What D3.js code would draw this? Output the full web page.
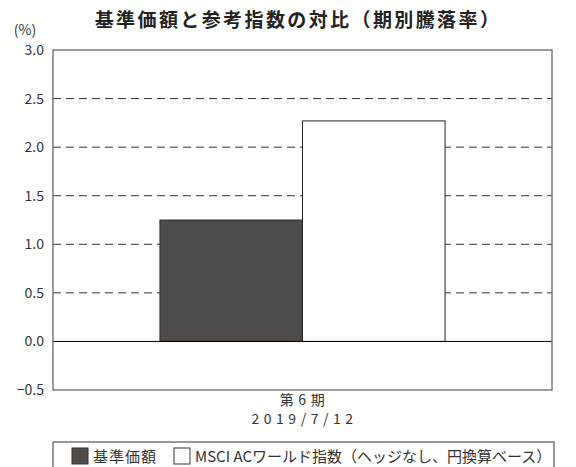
<!DOCTYPE html>
<html>
<head>
<meta charset="utf-8">
<script src="https://cdn.jsdelivr.net/npm/d3@7"></script>
<style>
  body { margin: 0; background: #fff; }
  text { font-family: "Noto Sans CJK JP", "Noto Sans", sans-serif; }
</style>
</head>
<body>
<div id="chart"></div>
<script>
const periods = ["第6期"];
const periodDates = ["2019/7/12"];
const seriesNames = ["基準価額", "MSCI ACワールド指数（ヘッジなし、円換算ベース）"];
const fundValues = [1.25];
const indexValues = [2.27];
const yTicks = [-0.5, 0.0, 0.5, 1.0, 1.5, 2.0, 2.5, 3.0];

const W = 576, H = 467;
const margin = { top: 50, right: 24, bottom: 77, left: 53 };
const width = W - margin.left - margin.right,
      height = H - margin.top - margin.bottom;

const svg = d3.select("#chart").append("svg")
  .attr("width", W).attr("height", H);

svg.append("text")
  .attr("x", 298).attr("y", 27)
  .attr("text-anchor", "middle")
  .style("font-size", "19px").style("font-weight", "bold").style("fill", "#222")
  .style("letter-spacing", "2.4px")
  .text("基準価額と参考指数の対比（期別騰落率）");

svg.append("text")
  .attr("x", 25).attr("y", 35)
  .attr("text-anchor", "middle")
  .style("font-size", "14px").style("fill", "#333")
  .text("(%)");

const g = svg.append("g").attr("transform", `translate(${margin.left},${margin.top})`);

const x = d3.scaleBand().domain(periods).range([0, width]).paddingInner(0).paddingOuter(0.375);
const x1 = d3.scaleBand().domain(seriesNames).range([0, x.bandwidth()]);
const y = d3.scaleLinear().domain([-0.5, 3.0]).range([height, 0]);

// dashed gridlines
g.append("g").selectAll("line")
  .data(yTicks.filter(t => t !== 0 && t !== 3.0 && t !== -0.5))
  .join("line")
  .attr("x1", 0).attr("x2", width)
  .attr("y1", d => y(d)).attr("y2", d => y(d))
  .attr("stroke", "#333").attr("stroke-width", 1)
  .attr("stroke-dasharray", "8,5");

// bars
const rows = periods.map((p, i) => ({ period: p, values: [fundValues[i], indexValues[i]] }));
const colors = ["#4d4a48", "#ffffff"];
g.append("g").selectAll("g")
  .data(rows).join("g")
  .attr("transform", d => `translate(${x(d.period)},0)`)
  .selectAll("rect")
  .data(d => d.values.map((v, j) => ({ name: seriesNames[j], v, j })))
  .join("rect")
  .attr("x", d => x1(d.name))
  .attr("y", d => y(Math.max(0, d.v)))
  .attr("width", x1.bandwidth())
  .attr("height", d => Math.abs(y(d.v) - y(0)))
  .attr("fill", d => colors[d.j])
  .attr("stroke", d => d.j === 0 ? "#333" : "#222")
  .attr("stroke-width", 1);

// zero line
g.append("line")
  .attr("x1", 0).attr("x2", width)
  .attr("y1", y(0)).attr("y2", y(0))
  .attr("stroke", "#000").attr("stroke-width", 1);

// frame
g.append("rect")
  .attr("x", 0).attr("y", 0).attr("width", width).attr("height", height)
  .attr("fill", "none").attr("stroke", "#666").attr("stroke-width", 1.3);

// y axis labels
const yAxis = g.append("g")
  .call(d3.axisLeft(y).tickValues(yTicks).tickSize(0).tickPadding(9)
    .tickFormat(d => d < 0 ? "−" + Math.abs(d).toFixed(1) : d.toFixed(1)));
yAxis.select(".domain").remove();
yAxis.selectAll("text")
  .style("font-size", "14px").style("fill", "#333")
  .style("font-family", '"Noto Sans CJK JP", sans-serif');

// x labels
const xg = g.append("g");
xg.selectAll("text.period")
  .data(periods).join("text")
  .attr("class", "period")
  .attr("x", d => x(d) + x.bandwidth() / 2 + 2)
  .attr("y", height + 15)
  .attr("text-anchor", "middle")
  .style("font-size", "14px").style("fill", "#333").style("letter-spacing", "4.5px")
  .text(d => d);
xg.selectAll("text.date")
  .data(periods).join("text")
  .attr("class", "date")
  .attr("x", d => x(d) + x.bandwidth() / 2 + 2)
  .attr("y", height + 34)
  .attr("text-anchor", "middle")
  .style("font-size", "14px").style("fill", "#333").style("letter-spacing", "4.5px")
  .text((d, i) => periodDates[i]);

// legend
const lg = svg.append("g").attr("transform", `translate(${margin.left},442)`);
lg.append("rect")
  .attr("x", 0).attr("y", 0).attr("width", 501).attr("height", 26)
  .attr("fill", "#fff").attr("stroke", "#333").attr("stroke-width", 1);
const legendX = [19, 121];
seriesNames.forEach((name, i) => {
  lg.append("rect")
    .attr("x", legendX[i]).attr("y", 6).attr("width", 16).attr("height", 16)
    .attr("fill", colors[i]).attr("stroke", "#333").attr("stroke-width", 1);
  lg.append("text")
    .attr("x", legendX[i] + 21).attr("y", 20)
    .style("font-size", "15px").style("fill", "#333")
    .style("letter-spacing", i === 0 ? "1px" : "0px")
    .text(name);
});
</script>
</body>
</html>
